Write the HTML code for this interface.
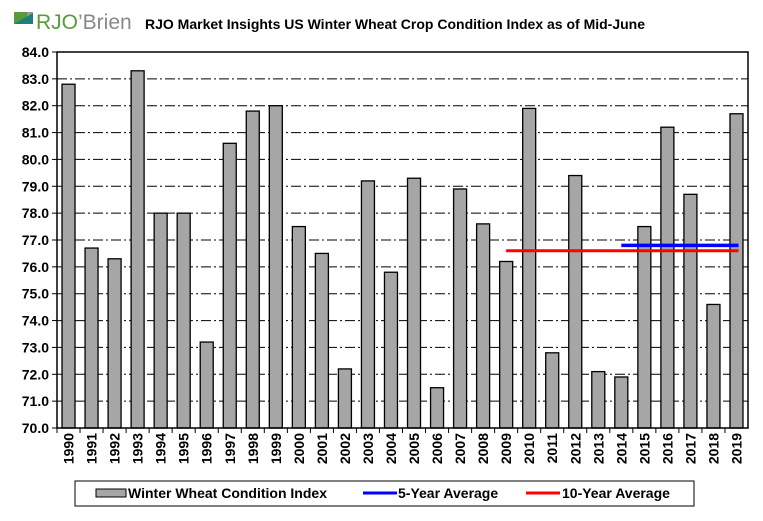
<!DOCTYPE html>
<html><head><meta charset="utf-8"><style>
body{margin:0;background:#fff;}
svg text{font-family:"Liberation Sans",Arial,sans-serif;font-weight:bold;}
</style></head><body>
<svg width="763" height="516" viewBox="0 0 763 516">
<g>
<rect x="14" y="12" width="13" height="12" fill="#5a9a3c"/>
<rect x="27" y="12" width="6" height="11" fill="#999"/>
<polygon points="14,24 33,13 33,24" fill="#1c7f7a"/>
<text x="36" y="29" font-size="21" fill="#5a9a3c" style="font-weight:normal">RJO</text>
<text x="78" y="29" font-size="21" fill="#888" style="font-weight:normal">’Brien</text>
</g>
<text x="145" y="29" font-size="14" fill="#000">RJO Market Insights US Winter Wheat Crop Condition Index as of Mid-June</text>
<g id="grid"></g>
<g id="bars"></g>
<g id="avgs"></g>
<rect x="57" y="52" width="691" height="376" fill="none" stroke="#000" stroke-width="1.5"/>
<g id="yaxis"></g>
<g id="xaxis"></g>
<g>
<rect x="75" y="481" width="619" height="25" fill="#fff" stroke="#000" stroke-width="1"/>
<rect x="96" y="489" width="30" height="8" fill="#a6a6a6" stroke="#000"/>
<text x="128" y="498" font-size="14">Winter Wheat Condition Index</text>
<line x1="363" y1="493" x2="397" y2="493" stroke="#0000ff" stroke-width="3"/>
<text x="398" y="498" font-size="14">5-Year Average</text>
<line x1="526" y1="493" x2="560" y2="493" stroke="#ff0000" stroke-width="3"/>
<text x="562" y="498" font-size="14">10-Year Average</text>
</g>
</svg>
<script>
const years=[1990,1991,1992,1993,1994,1995,1996,1997,1998,1999,2000,2001,2002,2003,2004,2005,2006,2007,2008,2009,2010,2011,2012,2013,2014,2015,2016,2017,2018,2019];
const values=[82.8,76.7,76.3,83.3,78.0,78.0,73.2,80.6,81.8,82.0,77.5,76.5,72.2,79.2,75.8,79.3,71.5,78.9,77.6,76.2,81.9,72.8,79.4,72.1,71.9,77.5,81.2,78.7,74.6,81.7];
const yTicks=[70,71,72,73,74,75,76,77,78,79,80,81,82,83,84];
const avg5=76.8, avg5Start=2014;
const avg10=76.6, avg10Start=2009;
const NS='http://www.w3.org/2000/svg';
const L=57,R=748,T=52,B=428,ymin=70,ymax=84;
const step=(R-L)/years.length;
const y=v=>B-(v-ymin)/(ymax-ymin)*(B-T);
const xc=i=>L+(i+0.5)*step;
function mk(t,a,p){const e=document.createElementNS(NS,t);for(const k in a)e.setAttribute(k,a[k]);p.appendChild(e);return e;}
const grid=document.getElementById('grid'),yax=document.getElementById('yaxis');
yTicks.forEach(v=>{
 if(v>ymin&&v<ymax){const g=mk('line',{x1:L,x2:R,y1:y(v),y2:y(v),stroke:'#000','stroke-dasharray':'10,3,2,3'},grid);
 
 }
 mk('line',{x1:L-5,x2:L,y1:y(v),y2:y(v),stroke:'#000'},yax);
 const t=mk('text',{x:L-8,y:y(v)+5,'text-anchor':'end','font-size':'14'},yax);
 t.textContent=v.toFixed(1);
 
 
});
const bars=document.getElementById('bars'),xax=document.getElementById('xaxis');
years.forEach((yr,i)=>{
 const r=mk('rect',{x:xc(i)-6.5,y:y(values[i]),width:13,height:B-y(values[i]),fill:'#a6a6a6',stroke:'#000','stroke-width':1.3},bars);
 
 
 mk('line',{x1:L+i*step,x2:L+i*step,y1:B,y2:B+5,stroke:'#000'},xax);
 const t=mk('text',{transform:`translate(${xc(i)+5},433) rotate(-90)`,'text-anchor':'end','font-size':'14'},xax);
 t.textContent=yr;
 
 
});
const av=document.getElementById('avgs');
const i10=years.indexOf(avg10Start),i5=years.indexOf(avg5Start),last=years.length-1;
const l10=mk('line',{x1:xc(i10),x2:xc(last)+2,y1:y(avg10),y2:y(avg10),stroke:'#ff0000','stroke-width':3},av);


const l5=mk('line',{x1:xc(i5),x2:xc(last)+2,y1:y(avg5),y2:y(avg5),stroke:'#0000ff','stroke-width':3.5},av);


</script>
</body></html>
